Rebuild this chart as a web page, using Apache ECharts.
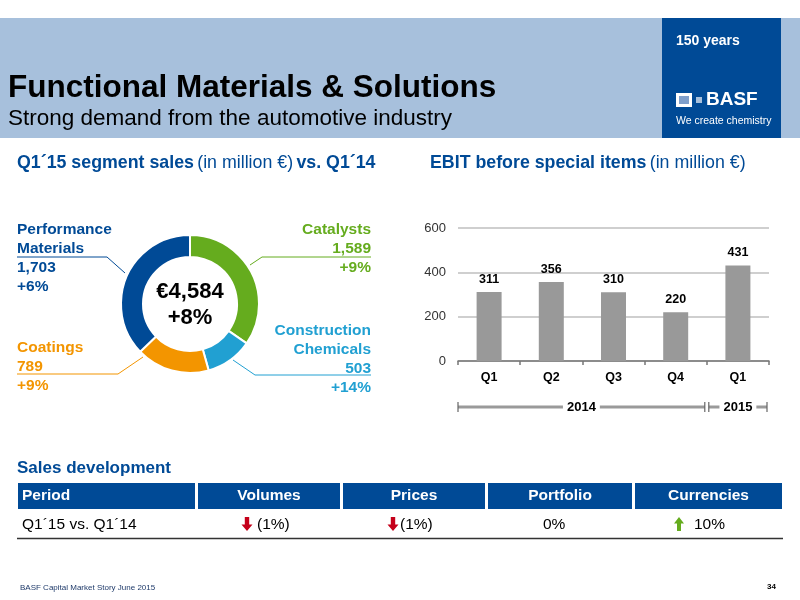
<!DOCTYPE html>
<html><head><meta charset="utf-8">
<script src="https://cdn.jsdelivr.net/npm/echarts@6/dist/echarts.min.js"></script>
<style>html,body{margin:0;padding:0;background:#fff}#c{width:800px;height:600px}</style>
</head><body><div id="c"></div>
<script>
// ---------- data ----------
const segments = ['Catalysts', 'Construction\nChemicals', 'Coatings', 'Performance\nMaterials'];
const segmentSales = [1589, 503, 789, 1703];
const segmentGrowth = ['+9%', '+14%', '+9%', '+6%'];
const totalGrowth = '+8%';
const quarters = ['Q1', 'Q2', 'Q3', 'Q4', 'Q1'];
const ebit = [311, 356, 310, 220, 431];
const years = ['2014', '2015'];
const yearQuarterCounts = [4, 1];
const tableHeaders = ['Period', 'Volumes', 'Prices', 'Portfolio', 'Currencies'];
const tableRow = ['Q1´15 vs. Q1´14', '(1%)', '(1%)', '0%', '10%'];
const tableTrend = [0, -1, -1, 0, 1];

// ---------- styles ----------
const FONT = '"Liberation Sans", Arial, sans-serif';
const BLUE = '#004a96';
const segColors = ['#65ac1e', '#21a0d2', '#f39500', '#004a96'];
const fmt = v => v.toLocaleString('en-US');

const chart = echarts.init(document.getElementById('c'), null, {renderer: 'canvas'});

const labelPos = [
  {x: 371, y: 220, align: 'right', pts: [[250, 265], [262, 257], [371, 257]]},
  {x: 371, y: 321, align: 'right', pts: [[233, 360], [255, 375], [371, 375]]},
  {x: 17, y: 338, align: 'left', pts: [[143, 357], [118, 374], [17, 374]]},
  {x: 17, y: 220, align: 'left', pts: [[125, 273], [107, 257], [17, 257]]}
];

const option = {
  animation: false,
  textStyle: {fontFamily: FONT},
  grid: {left: 458, right: 31, top: 228, bottom: 239, containLabel: false},
  xAxis: {
    type: 'category', data: quarters,
    axisLine: {lineStyle: {color: '#777', width: 1.5}},
    axisTick: {show: true, length: 4, lineStyle: {color: '#777', width: 1.5}},
    axisLabel: {color: '#000', fontWeight: 'bold', fontSize: 12.5, margin: 10, fontFamily: FONT}
  },
  yAxis: {
    type: 'value', min: 0, max: 600, interval: 200,
    axisLine: {show: false}, axisTick: {show: false},
    axisLabel: {color: '#333', fontSize: 13, margin: 12, fontFamily: FONT},
    splitLine: {lineStyle: {color: '#cfcfcf', width: 2}}
  },
  series: [
    {
      type: 'bar', data: ebit, barWidth: 25,
      itemStyle: {color: '#999999'},
      label: {show: true, position: 'top', distance: 6, color: '#000', fontWeight: 'bold', fontSize: 12.5, fontFamily: FONT},
      silent: true
    },
    {
      type: 'pie', center: [190, 304], radius: [47, 69], startAngle: 90, clockwise: true,
      silent: true,
      itemStyle: {borderColor: '#fff', borderWidth: 2},
      data: segments.map((n, i) => ({
        name: n, value: segmentSales[i],
        itemStyle: {color: segColors[i]},
        label: {color: segColors[i]},
        labelLine: {lineStyle: {color: segColors[i]}}
      })),
      label: {
        show: true, fontFamily: FONT, fontSize: 15.5, fontWeight: 'bold', lineHeight: 19,
        overflow: 'none', width: 200,
        formatter: p => p.name + '\n' + fmt(p.value) + '\n' + segmentGrowth[p.dataIndex]
      },
      labelLine: {show: true, length: 10, length2: 10, smooth: false, lineStyle: {width: 1}},
      labelLayout: function (params) {
        const L = labelPos[params.dataIndex];
        return {x: L.x, y: L.y, align: L.align, verticalAlign: 'top', width: 200, labelLinePoints: L.pts};
      }
    }
  ]
};
chart.setOption(option);

// ---------- decorations / text ----------
const total = segmentSales.reduce((a, b) => a + b, 0);
const els = [];
const txt = (text, x, y, o) => els.push({type: 'text', z: 10, style: Object.assign({text, x, y, fill: '#000', fontFamily: FONT, fontSize: 14, textAlign: 'left', textVerticalAlign: 'middle'}, o || {})});

// header band
els.push({type: 'rect', z: 1, shape: {x: 0, y: 18, width: 800, height: 120}, style: {fill: '#a7c0dc'}});
els.push({type: 'rect', z: 2, shape: {x: 662, y: 18, width: 119, height: 120}, style: {fill: BLUE}});
txt('Functional Materials & Solutions', 8, 88, {fontSize: 31.5, fontWeight: 'bold', fill: '#000'});
txt('Strong demand from the automotive industry', 8, 119, {fontSize: 22.5, fill: '#000'});
txt('150 years', 676, 41, {fontSize: 14, fontWeight: 'bold', fill: '#fff'});
// BASF logo
els.push({type: 'rect', z: 3, shape: {x: 676, y: 93, width: 16, height: 14}, style: {fill: '#fff'}});
els.push({type: 'rect', z: 4, shape: {x: 679, y: 96, width: 10, height: 8}, style: {fill: '#7f9fcb'}});
els.push({type: 'rect', z: 3, shape: {x: 696, y: 97, width: 6, height: 6}, style: {fill: '#a7c0dc'}});
txt('BASF', 706, 100, {fontSize: 19, fontWeight: 'bold', fill: '#fff'});
txt('We create chemistry', 676, 121, {fontSize: 10.5, fill: '#fff'});

// section headers
const hdrRich = {b: {fontFamily: FONT, fontSize: 17.8, fontWeight: 'bold', fill: BLUE}, n: {fontFamily: FONT, fontSize: 17.8, fill: BLUE}};
els.push({type: 'text', z: 10, style: {
  x: 17, y: 163, textVerticalAlign: 'middle',
  text: '{b|Q1´15 segment sales} {n|(in million €)} {b|vs. Q1´14}', rich: hdrRich
}});
els.push({type: 'text', z: 10, style: {
  x: 430, y: 163, textVerticalAlign: 'middle',
  text: '{b|EBIT before special items} {n|(in million €)}', rich: hdrRich
}});

// donut centre
txt('€' + fmt(total), 190, 292, {fontSize: 22, fontWeight: 'bold', textAlign: 'center'});
txt(totalGrowth, 190, 318, {fontSize: 22, fontWeight: 'bold', textAlign: 'center'});

// year brackets computed from axis
const px = i => chart.convertToPixel({xAxisIndex: 0}, i);
const band = px(1) - px(0);
let start = 0;
const yB = 407;
years.forEach((yr, k) => {
  const n = yearQuarterCounts[k];
  const x0 = px(start) - band / 2 + (k > 0 ? 2 : 0);
  const x1 = px(start + n - 1) + band / 2 - 2;
  els.push({type: 'line', z: 5, shape: {x1: x0, y1: yB, x2: x1, y2: yB}, style: {stroke: '#9a9a9a', lineWidth: 3}});
  els.push({type: 'line', z: 6, shape: {x1: x0, y1: yB - 5, x2: x0, y2: yB + 5}, style: {stroke: '#666', lineWidth: 1.2}});
  els.push({type: 'line', z: 6, shape: {x1: x1, y1: yB - 5, x2: x1, y2: yB + 5}, style: {stroke: '#666', lineWidth: 1.2}});
  txt(yr, (x0 + x1) / 2, yB, {fontSize: 13, fontWeight: 'bold', textAlign: 'center', backgroundColor: '#fff', padding: [0, 4]});
  start += n;
});

// Sales development table
txt('Sales development', 17, 468, {fontSize: 17, fontWeight: 'bold', fill: BLUE});
const cells = [[18, 195], [198, 340], [343, 485], [488, 632], [635, 782]];
tableHeaders.forEach((h, i) => {
  const [a, b] = cells[i];
  els.push({type: 'rect', z: 3, shape: {x: a, y: 483, width: b - a, height: 26}, style: {fill: BLUE}});
  if (i === 0) txt(h, a + 4, 496, {fontSize: 15.5, fontWeight: 'bold', fill: '#fff'});
  else txt(h, (a + b) / 2, 496, {fontSize: 15.5, fontWeight: 'bold', fill: '#fff', textAlign: 'center'});
});
const arrow = (cx, cy, dir, color, w) => {
  const s = dir; // -1 down, 1 up
  const pts = [
    [cx - w * 0.2, cy + s * 7], [cx + w * 0.2, cy + s * 7],
    [cx + w * 0.2, cy - s * 0.5], [cx + w * 0.5, cy - s * 0.5],
    [cx, cy - s * 7], [cx - w * 0.5, cy - s * 0.5], [cx - w * 0.2, cy - s * 0.5]
  ];
  els.push({type: 'polygon', z: 6, shape: {points: pts}, style: {fill: color}});
};
const rowY = 525;
txt(tableRow[0], 22, rowY, {fontSize: 15.5});
const rowTextX = [null, 257, 400, 543, 694];
const arrowX = [null, 247, 393, null, 679];
for (let i = 1; i < tableRow.length; i++) {
  txt(tableRow[i], rowTextX[i], rowY, {fontSize: 15.5});
  if (tableTrend[i] < 0) arrow(arrowX[i], rowY - 1, -1, '#c5001a', 11);
  if (tableTrend[i] > 0) arrow(arrowX[i], rowY - 1, 1, '#65ac1e', 10);
}
els.push({type: 'line', z: 5, shape: {x1: 17, y1: 538.5, x2: 783, y2: 538.5}, style: {stroke: '#333', lineWidth: 1.3}});

// footer
txt('BASF Capital Market Story June 2015', 20, 588, {fontSize: 8, fill: '#1f3a6a'});
txt('34', 776, 587, {fontSize: 8, fontWeight: 'bold', fill: '#000', textAlign: 'right'});

chart.setOption({graphic: {elements: els}});
</script>
</body></html>
